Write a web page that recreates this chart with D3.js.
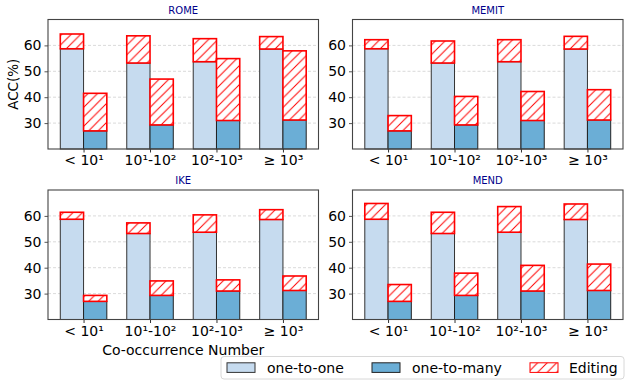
<!DOCTYPE html>
<html><head><meta charset="utf-8">
<script src="https://cdn.jsdelivr.net/npm/d3@7"></script>
<style>body{margin:0;background:#fff}svg{display:block;font-family:"DejaVu Sans",sans-serif}</style>
</head><body><svg id="c" width="631" height="388"></svg>
<script>
const categories = ["< 10¹", "10¹-10²", "10²-10³", "≥ 10³"];
const methods = ["ROME", "MEMIT", "IKE", "MEND"];
const oneToOne = [58.7, 53.2, 53.7, 58.6];
const oneToMany = [27.0, 29.3, 31.0, 31.2];
// accuracy after editing (top of hatched segment)
const editOneROME = [64.4, 63.7, 62.6, 63.4];
const editManyROME = [41.5, 47.0, 54.9, 57.9];
const editOneMEMIT = [62.2, 61.7, 62.2, 63.5];
const editManyMEMIT = [32.9, 40.3, 42.2, 42.9];
const editOneIKE = [61.4, 57.3, 60.4, 62.4];
const editManyIKE = [29.3, 34.9, 35.3, 36.8];
const editOneMEND = [64.8, 61.4, 63.6, 64.6];
const editManyMEND = [33.5, 37.9, 40.9, 41.4];
const yTicks = [30, 40, 50, 60];
const legendLabels = ["one-to-one", "one-to-many", "Editing"];

const editOne = {ROME: editOneROME, MEMIT: editOneMEMIT, IKE: editOneIKE, MEND: editOneMEND};
const editMany = {ROME: editManyROME, MEMIT: editManyMEMIT, IKE: editManyIKE, MEND: editManyMEND};

const svg = d3.select("#c");
const defs = svg.append("defs");
const T = 9.5;
const pat = defs.append("pattern").attr("id", "hatch").attr("patternUnits", "userSpaceOnUse")
  .attr("width", T).attr("height", T);
pat.append("rect").attr("width", T).attr("height", T).attr("fill", "#fff");
pat.append("path").attr("d", `M-1,1 l2,-2 M0,${T} l${T},-${T} M${T-1},${T+1} l2,-2`)
  .attr("stroke", "#ff0000").attr("stroke-width", 1);

const light = "#c6dbef", dark = "#6baed6";
const panels = [
  {m: "ROME", x: 48, y: 19.5},
  {m: "MEMIT", x: 352.5, y: 19.5},
  {m: "IKE", x: 48, y: 190},
  {m: "MEND", x: 352.5, y: 190}
];
const W = 270.5, H = 129.5;
const bw = 0.35;

panels.forEach((p, pi) => {
  const g = svg.append("g").attr("transform", `translate(${p.x},${p.y})`);
  const x = d3.scaleLinear().domain([-0.535, 3.535]).range([0, W]);
  const y = d3.scaleLinear().domain([20, 70]).range([H, 0]);
  // grid
  g.selectAll(".grid").data(yTicks).enter().append("line")
    .attr("x1", 0).attr("x2", W).attr("y1", d => y(d)).attr("y2", d => y(d))
    .attr("stroke", "#d0d0d0").attr("stroke-width", 0.8).attr("stroke-dasharray", "3,2");
  categories.forEach((c, i) => {
    // one-to-one
    g.append("rect").attr("x", x(i - bw)).attr("width", x(i) - x(i - bw))
      .attr("y", y(oneToOne[i])).attr("height", y(20) - y(oneToOne[i]))
      .attr("fill", light).attr("stroke", "#333").attr("stroke-width", 1);
    g.append("rect").attr("x", x(i - bw)).attr("width", x(i) - x(i - bw))
      .attr("y", y(editOne[p.m][i])).attr("height", y(oneToOne[i]) - y(editOne[p.m][i]))
      .attr("fill", "url(#hatch)").attr("stroke", "#ff0000").attr("stroke-width", 1.6);
    // one-to-many
    g.append("rect").attr("x", x(i)).attr("width", x(i + bw) - x(i))
      .attr("y", y(oneToMany[i])).attr("height", y(20) - y(oneToMany[i]))
      .attr("fill", dark).attr("stroke", "#222").attr("stroke-width", 1);
    g.append("rect").attr("x", x(i)).attr("width", x(i + bw) - x(i))
      .attr("y", y(editMany[p.m][i])).attr("height", y(oneToMany[i]) - y(editMany[p.m][i]))
      .attr("fill", "url(#hatch)").attr("stroke", "#ff0000").attr("stroke-width", 1.6);
  });
  // axes
  const ya = g.append("g").call(d3.axisLeft(y).tickValues(yTicks).tickSize(3.5).tickPadding(3));
  ya.select(".domain").remove();
  ya.selectAll("line").attr("stroke", "#555");
  ya.selectAll("text").attr("font-size", 14).attr("fill", "#000").attr("font-family", "DejaVu Sans");
  const xa = g.append("g").attr("transform", `translate(0,${H})`)
    .call(d3.axisBottom(x).tickValues([0, 1, 2, 3]).tickFormat(i => categories[i]).tickSize(3.5).tickPadding(3));
  xa.select(".domain").remove();
  xa.selectAll("line").attr("stroke", "#333");
  xa.selectAll("text").attr("font-size", 14).attr("fill", "#000").attr("font-family", "DejaVu Sans");
  g.append("rect").attr("width", W).attr("height", H).attr("fill", "none")
    .attr("stroke", "#444").attr("stroke-width", 1.1);
  g.append("text").attr("x", W / 2).attr("y", -6).attr("text-anchor", "middle")
    .attr("font-size", 10).attr("fill", "#00008b").text(p.m);
  if (pi === 0) {
    g.append("text").attr("transform", `translate(-30,${H / 2}) rotate(-90)`)
      .attr("text-anchor", "middle").attr("font-size", 13.5).text("ACC(%)");
  }
  if (pi === 2) {
    g.append("text").attr("x", W / 2).attr("y", H + 35).attr("text-anchor", "middle")
      .attr("font-size", 14).text("Co-occurrence Number");
  }
});

// legend
const lg = svg.append("g").attr("transform", "translate(221,356.5)");
lg.append("rect").attr("width", 403).attr("height", 22.5).attr("rx", 3)
  .attr("fill", "#fff").attr("stroke", "#d8d8d8").attr("stroke-width", 1);
const items = [
  {dx: 6, tx: 46, fill: light, stroke: "#333"},
  {dx: 151, tx: 191, fill: dark, stroke: "#222"},
  {dx: 309, tx: 348, fill: "url(#hatch)", stroke: "#ff0000"}
];
items.forEach((it, i) => {
  lg.append("rect").attr("x", it.dx).attr("y", 6.3).attr("width", 28).attr("height", 9.6)
    .attr("fill", it.fill).attr("stroke", it.stroke).attr("stroke-width", 1);
  lg.append("text").attr("x", it.tx).attr("y", 16.3).attr("font-size", 14).text(legendLabels[i]);
});
</script></body></html>
